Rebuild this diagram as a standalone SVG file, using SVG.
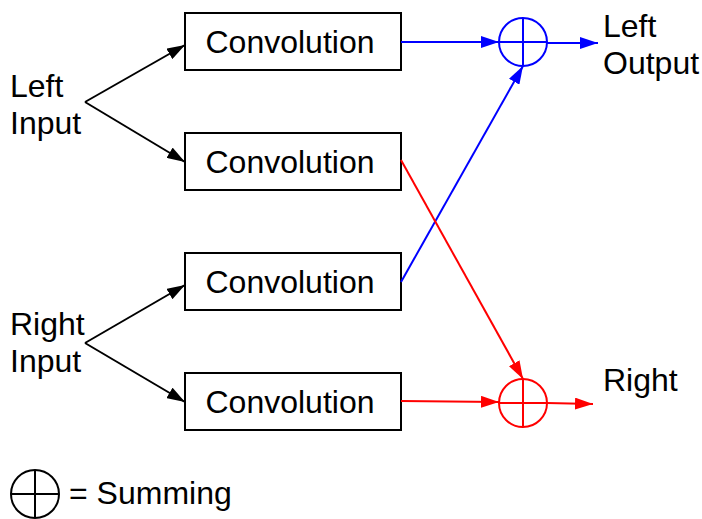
<svg xmlns="http://www.w3.org/2000/svg" width="702" height="519" viewBox="0 0 702 519">
<style>
.box{fill:#fff;stroke:#000;stroke-width:2}
.t{font-family:"Liberation Sans",Arial,sans-serif;font-size:32px;fill:#000}
.k{stroke:#000;stroke-width:2;fill:none}
.b{stroke:#0000ff;stroke-width:2;fill:none}
.r{stroke:#ff0000;stroke-width:2;fill:none}
</style>
<defs>
<marker id="ak" viewBox="0 0 18 12" refX="18" refY="6" markerWidth="18" markerHeight="12" markerUnits="userSpaceOnUse" orient="auto"><path d="M0,0 L18,6 L0,12 Z" fill="#000"/></marker>
<marker id="ab" viewBox="0 0 18 12" refX="18" refY="6" markerWidth="18" markerHeight="12" markerUnits="userSpaceOnUse" orient="auto"><path d="M0,0 L18,6 L0,12 Z" fill="#0000ff"/></marker>
<marker id="ar" viewBox="0 0 18 12" refX="18" refY="6" markerWidth="18" markerHeight="12" markerUnits="userSpaceOnUse" orient="auto"><path d="M0,0 L18,6 L0,12 Z" fill="#ff0000"/></marker>
</defs>
<g id="conv1"><rect class="box" x="185" y="13" width="216" height="57"/><text class="t" x="290" y="53" text-anchor="middle">Convolution</text></g>
<g id="conv2"><rect class="box" x="185" y="133" width="216" height="57"/><text class="t" x="290" y="173" text-anchor="middle">Convolution</text></g>
<g id="conv3"><rect class="box" x="185" y="253" width="216" height="57"/><text class="t" x="290" y="293" text-anchor="middle">Convolution</text></g>
<g id="conv4"><rect class="box" x="185" y="373" width="216" height="57"/><text class="t" x="290" y="413" text-anchor="middle">Convolution</text></g>
<g id="leftInput"><text class="t" x="10" y="97">Left</text><text class="t" x="10" y="134">Input</text></g>
<g id="rightInput"><text class="t" x="10" y="335">Right</text><text class="t" x="10" y="372">Input</text></g>
<g id="leftOutput"><text class="t" x="603" y="37">Left</text><text class="t" x="603" y="74">Output</text></g>
<g id="rightOutput"><text class="t" x="603" y="391">Right</text></g>
<g id="sumTop"><circle class="b" cx="523" cy="42" r="24"/><path class="b" d="M499,42 H547 M523,18 V66"/></g>
<g id="sumBottom"><circle class="r" cx="523" cy="403" r="24"/><path class="r" d="M499,403 H547 M523,379 V427"/></g>
<g id="legend"><circle class="k" cx="35" cy="494" r="24"/><path class="k" d="M11,494 H59 M35,470 V518"/><text class="t" x="69" y="504">= Summing</text></g>
<g id="connectors">
<line class="k" x1="85" y1="102" x2="185" y2="45" marker-end="url(#ak)"/>
<line class="k" x1="85" y1="102" x2="185" y2="162" marker-end="url(#ak)"/>
<line class="k" x1="85" y1="343" x2="185" y2="285" marker-end="url(#ak)"/>
<line class="k" x1="85" y1="343" x2="185" y2="402" marker-end="url(#ak)"/>
<line class="b" x1="401" y1="42" x2="499" y2="42" marker-end="url(#ab)"/>
<line class="b" x1="547" y1="43" x2="598" y2="43" marker-end="url(#ab)"/>
<line class="b" x1="401" y1="282" x2="523" y2="66" marker-end="url(#ab)"/>
<line class="r" x1="401" y1="401" x2="499" y2="402" marker-end="url(#ar)"/>
<line class="r" x1="547" y1="403" x2="593" y2="404" marker-end="url(#ar)"/>
<line class="r" x1="401" y1="160" x2="523" y2="379" marker-end="url(#ar)"/>
</g>
</svg>
